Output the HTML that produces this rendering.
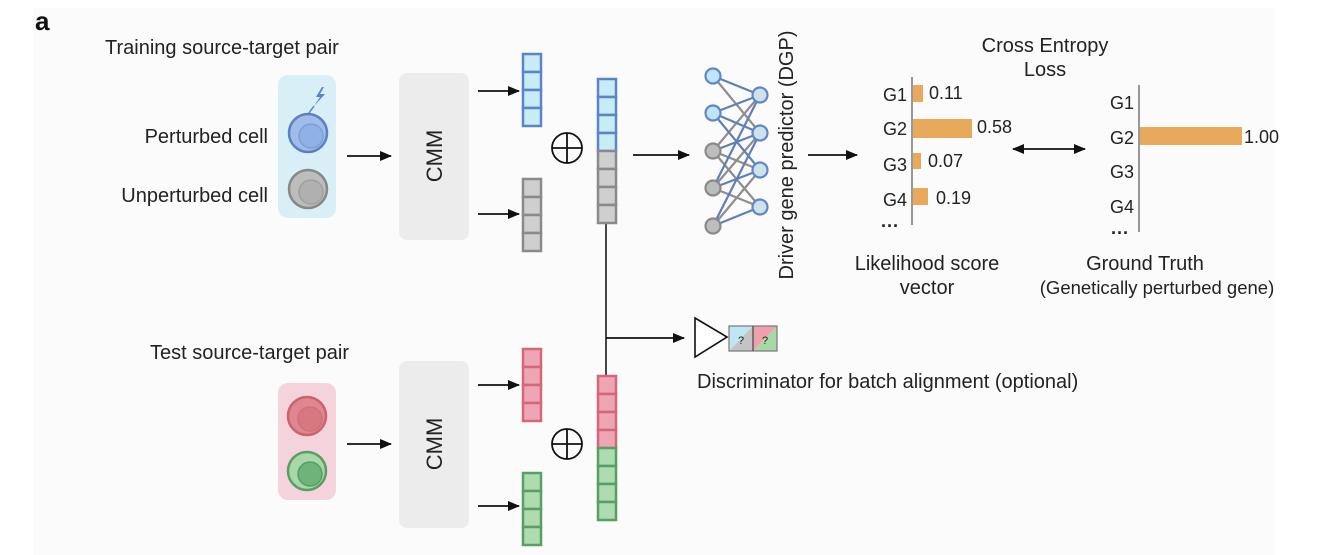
<!DOCTYPE html>
<html><head><meta charset="utf-8"><style>
html,body{margin:0;padding:0;background:#fff;}
svg{display:block;font-family:"Liberation Sans",Arial,sans-serif;}
</style></head><body>
<svg width="1329" height="555" viewBox="0 0 1329 555" xmlns="http://www.w3.org/2000/svg">
<defs>
<marker id="ah" markerWidth="12" markerHeight="10" refX="11" refY="5" orient="auto" markerUnits="userSpaceOnUse"><path d="M0,0 L12,5 L0,10 z" fill="#111"/></marker>
<marker id="ahs" markerWidth="12" markerHeight="10" refX="1" refY="5" orient="auto" markerUnits="userSpaceOnUse"><path d="M12,0 L0,5 L12,10 z" fill="#111"/></marker>
</defs>
<rect x="33" y="8" width="1242" height="547" fill="#fbfbfb"/>
<text x="35" y="30" font-size="26" font-weight="bold" fill="#111">a</text>

<g font-size="20" fill="#222">
<text x="105" y="54">Training source-target pair</text>
<text x="268" y="143" text-anchor="end">Perturbed cell</text>
<text x="268" y="202" text-anchor="end">Unperturbed cell</text>
<text x="150" y="359">Test source-target pair</text>
<text x="697" y="388">Discriminator for batch alignment (optional)</text>
<text x="1045" y="52" text-anchor="middle">Cross Entropy</text>
<text x="1045" y="76" text-anchor="middle">Loss</text>
<text x="927" y="270" text-anchor="middle">Likelihood score</text>
<text x="927" y="294" text-anchor="middle">vector</text>
<text x="1145" y="270" text-anchor="middle">Ground Truth</text>
<text x="1157" y="294" text-anchor="middle" font-size="18.5">(Genetically perturbed gene)</text>
<text transform="translate(793,155) rotate(-90)" text-anchor="middle">Driver gene predictor (DGP)</text>
</g>

<!-- training cells -->
<rect x="278" y="75" width="58" height="143" rx="10" fill="#d8eff8"/>
<circle cx="308" cy="133" r="19" fill="#9fbde8" stroke="#5b80c4" stroke-width="2.5"/>
<circle cx="311" cy="136" r="12" fill="#8fb1e3" stroke="#7aa0dc" stroke-width="1.5"/>
<circle cx="308" cy="189" r="19" fill="#bdbdbd" stroke="#888" stroke-width="2.5"/>
<circle cx="311" cy="192" r="12" fill="#b0b0b0" stroke="#a0a0a0" stroke-width="1.5"/>
<path d="M322,87 L316,97 L320,97 L314,106 L325,94 L320,94 L324,87 z" fill="#5b80c4"/>
<line x1="314" y1="106" x2="309" y2="113" stroke="#5b80c4" stroke-width="1.5"/>

<!-- test cells -->
<rect x="278" y="383" width="58" height="117" rx="10" fill="#f5d3dc"/>
<circle cx="307" cy="416" r="19" fill="#e0868f" stroke="#c9646f" stroke-width="2.5"/>
<circle cx="310" cy="419" r="12" fill="#d77880" stroke="#cf7079" stroke-width="1.5"/>
<circle cx="307" cy="471" r="19" fill="#a8d8aa" stroke="#5a9e65" stroke-width="2.5"/>
<circle cx="310" cy="474" r="12" fill="#6fb27a" stroke="#5a9e65" stroke-width="1.5"/>

<!-- CMM -->
<rect x="399" y="73" width="70" height="167" rx="8" fill="#ececec"/>
<rect x="399" y="361" width="70" height="167" rx="8" fill="#ececec"/>
<text transform="translate(442,156) rotate(-90)" text-anchor="middle" font-size="22" fill="#222">CMM</text>
<text transform="translate(442,444) rotate(-90)" text-anchor="middle" font-size="22" fill="#222">CMM</text>

<g stroke="#111" stroke-width="1.8" fill="none">
<line x1="347" y1="156" x2="391" y2="156" marker-end="url(#ah)"/>
<line x1="347" y1="444" x2="391" y2="444" marker-end="url(#ah)"/>
<line x1="478" y1="91" x2="519" y2="91" marker-end="url(#ah)"/>
<line x1="478" y1="214" x2="519" y2="214" marker-end="url(#ah)"/>
<line x1="478" y1="385" x2="519" y2="385" marker-end="url(#ah)"/>
<line x1="478" y1="506" x2="519" y2="506" marker-end="url(#ah)"/>
<line x1="633" y1="155" x2="689" y2="155" marker-end="url(#ah)"/>
<line x1="808" y1="155" x2="857" y2="155" marker-end="url(#ah)"/>
<line x1="1013" y1="149" x2="1085" y2="149" marker-end="url(#ah)" marker-start="url(#ahs)"/>
<line x1="606" y1="222" x2="606" y2="375" stroke="#333"/>
<line x1="606" y1="338" x2="684" y2="338" marker-end="url(#ah)"/>
<circle cx="567" cy="148" r="15"/><line x1="552" y1="148" x2="582" y2="148"/><line x1="567" y1="133" x2="567" y2="163"/>
<circle cx="567" cy="444" r="15"/><line x1="552" y1="444" x2="582" y2="444"/><line x1="567" y1="429" x2="567" y2="459"/>
</g>

<!-- vectors -->
<g stroke-width="2.5">
<g fill="#c8ecf6" stroke="#5b85c6">
<rect x="523" y="54" width="18" height="18"/><rect x="523" y="72" width="18" height="18"/><rect x="523" y="90" width="18" height="18"/><rect x="523" y="108" width="18" height="18"/>
<rect x="598" y="79" width="18" height="18"/><rect x="598" y="97" width="18" height="18"/><rect x="598" y="115" width="18" height="18"/><rect x="598" y="133" width="18" height="18"/>
</g>
<g fill="#cfcfcf" stroke="#8a8a8a">
<rect x="523" y="179" width="18" height="18"/><rect x="523" y="197" width="18" height="18"/><rect x="523" y="215" width="18" height="18"/><rect x="523" y="233" width="18" height="18"/>
<rect x="598" y="151" width="18" height="18"/><rect x="598" y="169" width="18" height="18"/><rect x="598" y="187" width="18" height="18"/><rect x="598" y="205" width="18" height="18"/>
</g>
<g fill="#efa6b4" stroke="#d26879">
<rect x="523" y="349" width="18" height="18"/><rect x="523" y="367" width="18" height="18"/><rect x="523" y="385" width="18" height="18"/><rect x="523" y="403" width="18" height="18"/>
<rect x="598" y="376" width="18" height="18"/><rect x="598" y="394" width="18" height="18"/><rect x="598" y="412" width="18" height="18"/><rect x="598" y="430" width="18" height="18"/>
</g>
<g fill="#aedbb0" stroke="#5a9e65">
<rect x="523" y="473" width="18" height="18"/><rect x="523" y="491" width="18" height="18"/><rect x="523" y="509" width="18" height="18"/><rect x="523" y="527" width="18" height="18"/>
<rect x="598" y="448" width="18" height="18"/><rect x="598" y="466" width="18" height="18"/><rect x="598" y="484" width="18" height="18"/><rect x="598" y="502" width="18" height="18"/>
</g>
</g>

<!-- network -->
<g stroke-width="2.2">
<g stroke="#8e8e8e">
<line x1="713" y1="76" x2="760" y2="133"/><line x1="713" y1="151" x2="760" y2="95"/><line x1="713" y1="151" x2="760" y2="170"/>
<line x1="713" y1="151" x2="760" y2="207"/><line x1="713" y1="188" x2="760" y2="133"/><line x1="713" y1="188" x2="760" y2="207"/>
<line x1="713" y1="226" x2="760" y2="170"/>
</g>
<g stroke="#5f7fb8">
<line x1="713" y1="76" x2="760" y2="95"/><line x1="713" y1="113" x2="760" y2="95"/><line x1="713" y1="113" x2="760" y2="133"/>
<line x1="713" y1="113" x2="760" y2="170"/><line x1="713" y1="151" x2="760" y2="133"/><line x1="713" y1="188" x2="760" y2="95"/>
<line x1="713" y1="188" x2="760" y2="170"/><line x1="713" y1="226" x2="760" y2="133"/><line x1="713" y1="226" x2="760" y2="207"/>
</g>
<g fill="#bfe6f7" stroke="#5f87c7"><circle cx="713" cy="76" r="7.5"/><circle cx="713" cy="113" r="7.5"/></g>
<g fill="#bdbdbd" stroke="#8a8a8a"><circle cx="713" cy="151" r="7.5"/><circle cx="713" cy="188" r="7.5"/><circle cx="713" cy="226" r="7.5"/></g>
<g fill="#cfe2ea" stroke="#5f87c7"><circle cx="760" cy="95" r="7.5"/><circle cx="760" cy="133" r="7.5"/><circle cx="760" cy="170" r="7.5"/><circle cx="760" cy="207" r="7.5"/></g>
</g>

<!-- likelihood chart -->
<line x1="912" y1="77" x2="912" y2="225" stroke="#777" stroke-width="1.5"/>
<g fill="#e9a95a">
<rect x="913" y="85" width="10" height="17"/><rect x="913" y="119" width="59" height="19"/>
<rect x="913" y="153" width="8" height="16"/><rect x="913" y="188" width="15" height="17"/>
<rect x="1140" y="127" width="102" height="18"/>
</g>
<g font-size="18" fill="#222">
<text x="907" y="101" text-anchor="end">G1</text><text x="907" y="135" text-anchor="end">G2</text>
<text x="907" y="171" text-anchor="end">G3</text><text x="907" y="206" text-anchor="end">G4</text>
<text x="929" y="99">0.11</text><text x="977" y="133">0.58</text><text x="928" y="167">0.07</text><text x="936" y="204">0.19</text>
<text x="881" y="232" font-weight="bold">···</text>
<text x="1134" y="109" text-anchor="end">G1</text><text x="1134" y="144" text-anchor="end">G2</text>
<text x="1134" y="178" text-anchor="end">G3</text><text x="1134" y="213" text-anchor="end">G4</text>
<text x="1244" y="143">1.00</text>
<text x="1111" y="239" font-weight="bold">···</text>
</g>
<line x1="1139" y1="85" x2="1139" y2="232" stroke="#777" stroke-width="1.5"/>

<!-- discriminator -->
<path d="M695,318 L727,337 L695,357 z" fill="#fff" stroke="#111" stroke-width="1.6"/>
<path d="M729,326 L753,326 L729,351 z" fill="#bfe6f3"/>
<path d="M753,326 L753,351 L729,351 z" fill="#c4c4c4"/>
<path d="M753,326 L777,326 L753,351 z" fill="#ef9fae"/>
<path d="M777,326 L777,351 L753,351 z" fill="#a9d8a8"/>
<rect x="729" y="326" width="48" height="25" fill="none" stroke="#777" stroke-width="1.2"/>
<line x1="753" y1="326" x2="753" y2="351" stroke="#444" stroke-width="1.2"/>
<text x="741" y="344" font-size="11" text-anchor="middle" fill="#222">?</text>
<text x="765" y="344" font-size="11" text-anchor="middle" fill="#222">?</text>
</svg>
</body></html>
